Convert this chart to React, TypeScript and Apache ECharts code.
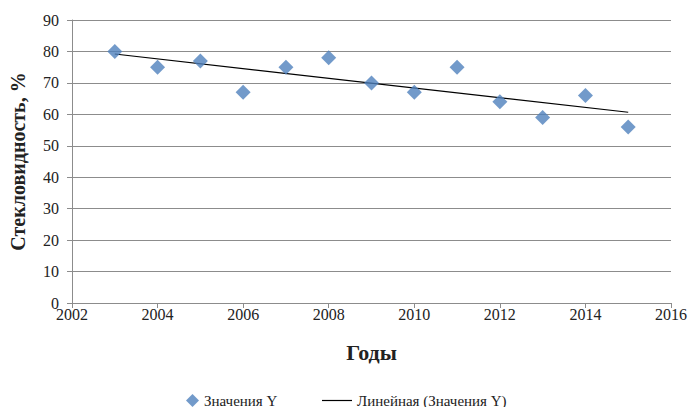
import React, { useEffect, useRef } from "react";
import * as echarts from "echarts";

const years = [2003, 2004, 2005, 2006, 2007, 2008, 2009, 2010, 2011, 2012, 2013, 2014, 2015];
const values = [80, 75, 77, 67, 75, 78, 70, 67, 75, 64, 59, 66, 56];
const seriesName = "Значения Y";
const trendName = "Линейная (Значения Y)";
const xTitle = "Годы";
const yTitle = "Стекловидность, %";

function regression(xs: number[], ys: number[]) {
  const n = xs.length;
  const mx = xs.reduce((a, b) => a + b, 0) / n;
  const my = ys.reduce((a, b) => a + b, 0) / n;
  let sxy = 0, sxx = 0;
  for (let i = 0; i < n; i++) {
    sxy += (xs[i] - mx) * (ys[i] - my);
    sxx += (xs[i] - mx) * (xs[i] - mx);
  }
  const k = sxy / sxx;
  const b = my - k * mx;
  return (x: number) => k * x + b;
}

export default function App() {
  const ref = useRef<HTMLDivElement>(null);
  useEffect(() => {
    if (!ref.current) return;
    const chart = echarts.init(ref.current, undefined, { renderer: "svg" });
    const f = regression(years, values);
    const x0 = years[0];
    const x1 = years[years.length - 1];
    const font = "Liberation Serif";
    chart.setOption({
      animation: false,
      grid: { left: 66, right: 17, top: 20, bottom: 104 },
      xAxis: {
        type: "value",
        min: 2002,
        max: 2016,
        interval: 2,
        name: xTitle,
        nameLocation: "middle",
        nameGap: 38,
        nameTextStyle: { fontFamily: font, fontSize: 22, fontWeight: "bold", color: "#222" },
        axisLine: { show: true, lineStyle: { color: "#8c8c8c", width: 1 } },
        axisTick: { show: true, length: 5, lineStyle: { color: "#8c8c8c" } },
        axisLabel: { fontFamily: font, fontSize: 16, color: "#222", margin: 3, formatter: (v: number) => String(v) },
        splitLine: { show: false },
      },
      yAxis: {
        type: "value",
        min: 0,
        max: 90,
        interval: 10,
        name: yTitle,
        nameLocation: "middle",
        nameGap: 44,
        nameTextStyle: { fontFamily: font, fontSize: 20, fontWeight: "bold", color: "#222" },
        axisLine: { show: true, lineStyle: { color: "#8c8c8c", width: 1 } },
        axisTick: { show: true, length: 5, lineStyle: { color: "#8c8c8c" } },
        axisLabel: { fontFamily: font, fontSize: 16, color: "#222", margin: 13 },
        splitLine: { show: true, lineStyle: { color: "#8c8c8c", width: 1 } },
      },
      legend: [
        {
          data: [{ name: seriesName, icon: "diamond" }],
          left: 186,
          top: 393,
          padding: 0,
          itemWidth: 13,
          itemHeight: 13,
          itemGap: 8,
          textStyle: { fontFamily: font, fontSize: 15, color: "#222" },
        },
        {
          data: [{ name: trendName, icon: "rect" }],
          left: 322,
          top: 393,
          padding: 0,
          itemWidth: 30,
          itemHeight: 1.2,
          textStyle: { fontFamily: font, fontSize: 15, color: "#222" },
        },
      ],
      series: [
        {
          name: trendName,
          type: "line",
          data: [[x0, f(x0)], [x1, f(x1)]],
          showSymbol: false,
          itemStyle: { color: "#000" },
          lineStyle: { color: "#000", width: 1.2 },
          z: 1,
        },
        {
          name: seriesName,
          type: "scatter",
          data: years.map((y, i) => [y, values[i]]),
          symbol: "diamond",
          symbolSize: 15,
          itemStyle: { color: "#4F81BD" },
          z: 2,
        },
      ],
    });
    return () => chart.dispose();
  }, []);
  return <div ref={ref} style={{ width: 690, height: 407, position: "absolute", left: 0, top: 0 }} />;
}
